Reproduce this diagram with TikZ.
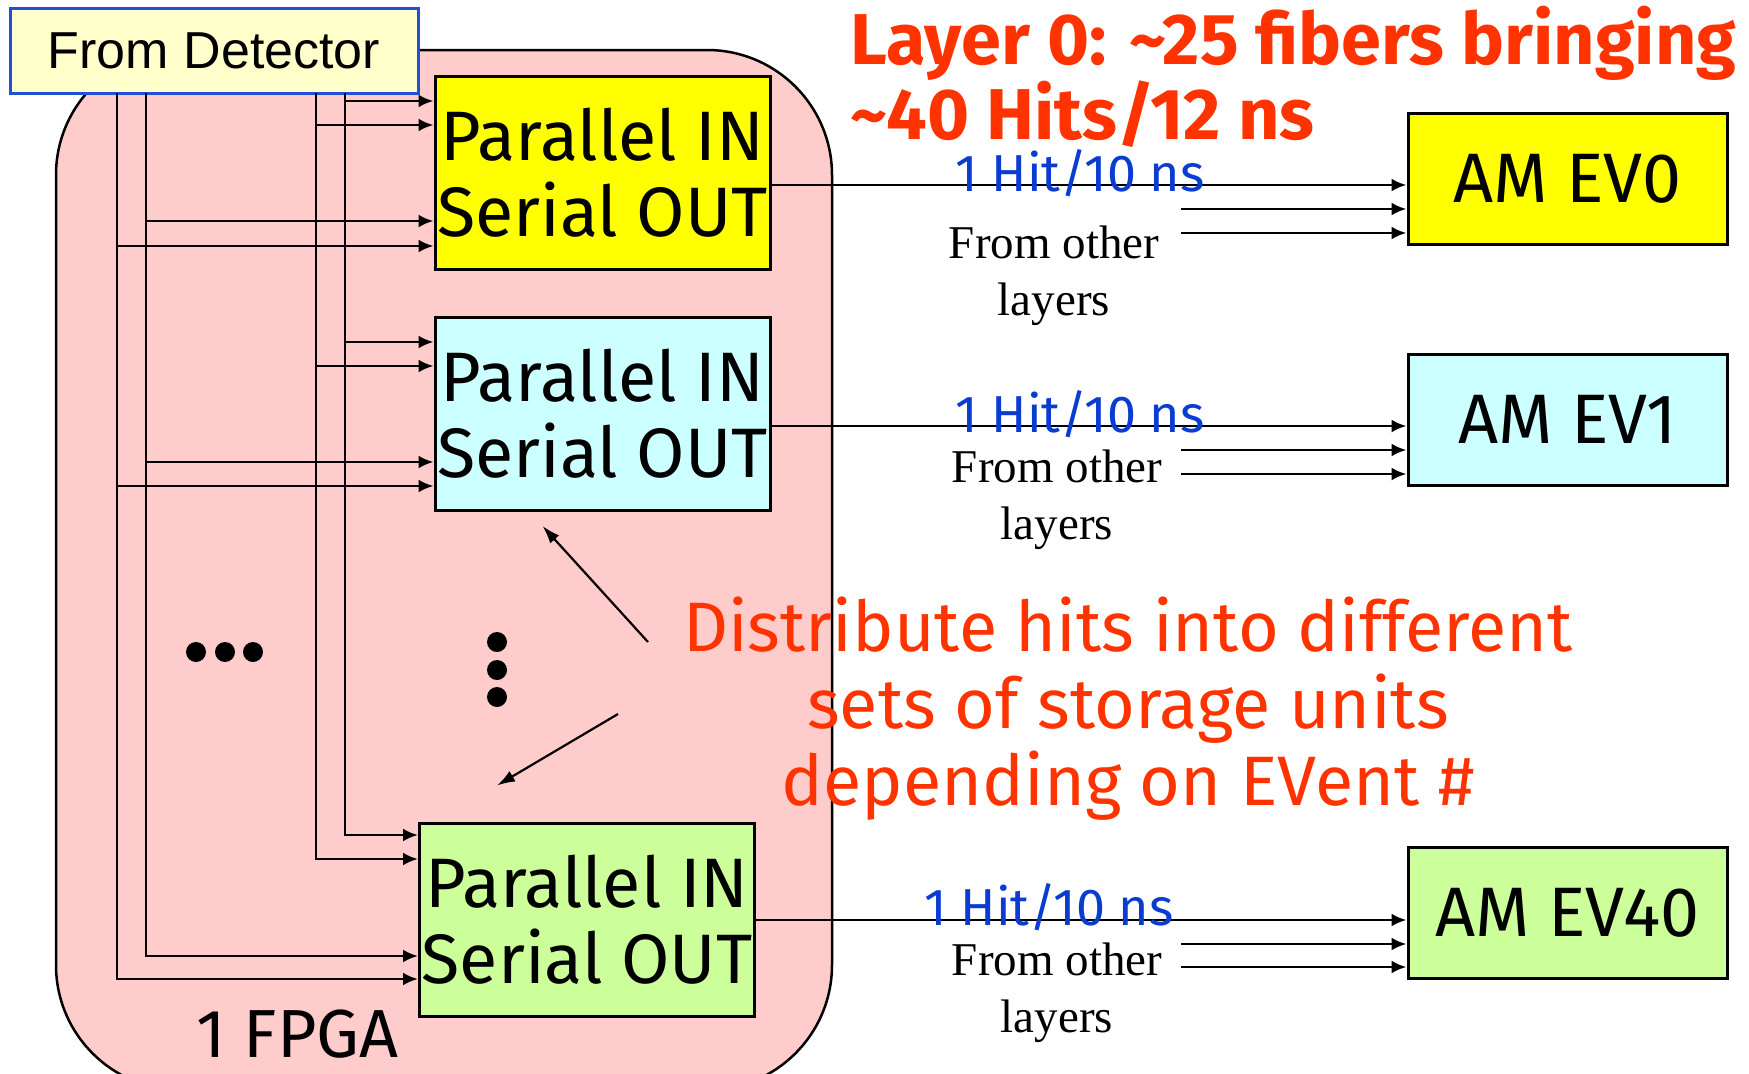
\documentclass[tikz,border=0pt]{standalone}
\usepackage{fontspec}
\usepackage{tikz}
\usetikzlibrary{positioning, arrows.meta}
\newfontfamily\comicfont{Fira Sans}
\newfontfamily\arialfont{Liberation Sans}
\newfontfamily\timesfont{Liberation Serif}
\definecolor{fpgapink}{HTML}{FFCCCC}
\definecolor{pisoyellow}{HTML}{FFFF00}
\definecolor{pisocyan}{HTML}{CCFFFF}
\definecolor{pisogreen}{HTML}{CCFF99}
\definecolor{detfill}{HTML}{FFFFCC}
\definecolor{detblue}{HTML}{2050D8}
\definecolor{notered}{HTML}{FF3300}
\definecolor{hitblue}{HTML}{0A3CD2}
\tikzset{
    base/.style={draw, line width=3pt, align=center, inner sep=0pt},
    pisobox/.style={base, minimum width=335pt, minimum height=193pt, font=\comicfont\fontsize{70}{76}\selectfont},
    ambox/.style={base, minimum width=319pt, minimum height=131pt, font=\comicfont\fontsize{70}{74}\selectfont},
    detbox/.style={base, draw=detblue, fill=detfill, minimum width=408pt, minimum height=85pt, font=\arialfont\fontsize{52}{60}\selectfont},
    fpgabox/.style={draw, line width=2.5pt, fill=fpgapink, rounded corners=125pt, minimum width=776pt, minimum height=1040pt},
    note/.style={text=notered, align=center, inner sep=0pt, font=\comicfont\fontsize{70}{77}\selectfont},
    headline/.style={note, align=left, font=\comicfont\bfseries\fontsize{72}{75}\selectfont},
    hitlabel/.style={text=hitblue, inner sep=0pt, font=\comicfont\fontsize{52}{56}\selectfont},
    other/.style={align=center, inner sep=0pt, font=\timesfont\fontsize{47}{57}\selectfont},
    feed/.style={line width=2.8pt, -{Latex[length=15pt, width=13pt]}},
    pointer/.style={line width=2.2pt, -{Latex[length=18pt, width=12pt]}}
}

\begin{document}
\begin{tikzpicture}[x=1pt, y=-1pt]
    \useasboundingbox (0,0) rectangle (1749,1074);
    % Nodes
    \node [fpgabox] (fpga) at (444,570) {};
    \node [detbox] (det) at (214,50.5) {From Detector};
    \node [anchor=base west, inner sep=0pt, font=\comicfont\fontsize{68}{72}\selectfont] (fpgalabel) at (196,1057) {1 FPGA};

    \node [pisobox, fill=pisoyellow] (piso0) at (602.5,172.5) {Parallel IN\\Serial OUT};
    \node [pisobox, fill=pisocyan] (piso1) at (602.5,414) {Parallel IN\\Serial OUT};
    \node [pisobox, fill=pisogreen] (piso2) at (587,919.5) {Parallel IN\\Serial OUT};

    \node [ambox, fill=pisoyellow] (am0) at (1567.5,178.5) {AM EV0};
    \node [ambox, fill=pisocyan] (am1) at (1567.5,419.5) {AM EV1};
    \node [ambox, fill=pisogreen] (am2) at (1567.5,913) {AM EV40};

    \node [headline, anchor=base west] (layer) at (850,139) {Layer 0: \textasciitilde25 fibers bringing\\\textasciitilde40 Hits/12 ns};
    \node [note, anchor=base] (dist) at (1128,805) {Distribute hits into different\\sets of storage units\\depending on EVent \#};

    \node [other, anchor=base] (oth0) at (1054,315) {From other\\layers};
    \node [other, anchor=base] (oth1) at (1057,539) {From other\\layers};
    \node [other, anchor=base] (oth2) at (1057,1032) {From other\\layers};

    % Dots
    \foreach \dx in {196,225,253}
        \fill (\dx,652) circle [radius=10pt];
    \foreach \dy in {642,670,697}
        \fill (497,\dy) circle [radius=10pt];

    % Connections
    \foreach \i/\bx/\ya/\yb/\yc in {1/345/101/342/835, 2/316/125/366/859, 3/146/221/462/956, 4/117/246/486/979} {
        \coordinate (bus\i) at (\bx,93);
        \draw [feed] (bus\i) |- (piso2.west |- 0,\yc);
        \draw [feed] (bus\i |- 0,\ya) -- (piso0.west |- 0,\ya);
        \draw [feed] (bus\i |- 0,\yb) -- (piso1.west |- 0,\yb);
    }

    \foreach \r/\yo/\ya/\yb in {0/185/209/233, 1/426/450/474, 2/920/944/967} {
        \draw [feed] (piso\r.east |- 0,\yo) -- (am\r.west |- 0,\yo);
        \coordinate (src\r-1) at (1181,\ya);
        \coordinate (src\r-2) at (1181,\yb);
        \draw [feed] (src\r-1) -- (am\r.west |- src\r-1);
        \draw [feed] (src\r-2) -- (am\r.west |- src\r-2);
    }

    \node [hitlabel, anchor=base] (hit0) at (1080,191) {1 Hit/10 ns};
    \node [hitlabel, anchor=base] (hit1) at (1080,432) {1 Hit/10 ns};
    \node [hitlabel, anchor=base] (hit2) at (1049,925) {1 Hit/10 ns};

    \coordinate (tail1) at (648,642);
    \coordinate (tail2) at (618,714);
    \draw [pointer] (tail1) -- ([xshift=-60pt, yshift=-14pt]piso1.south);
    \draw [pointer] (tail2) -- ([xshift=-90pt, yshift=36pt]piso2.north);
\end{tikzpicture}
\end{document}
